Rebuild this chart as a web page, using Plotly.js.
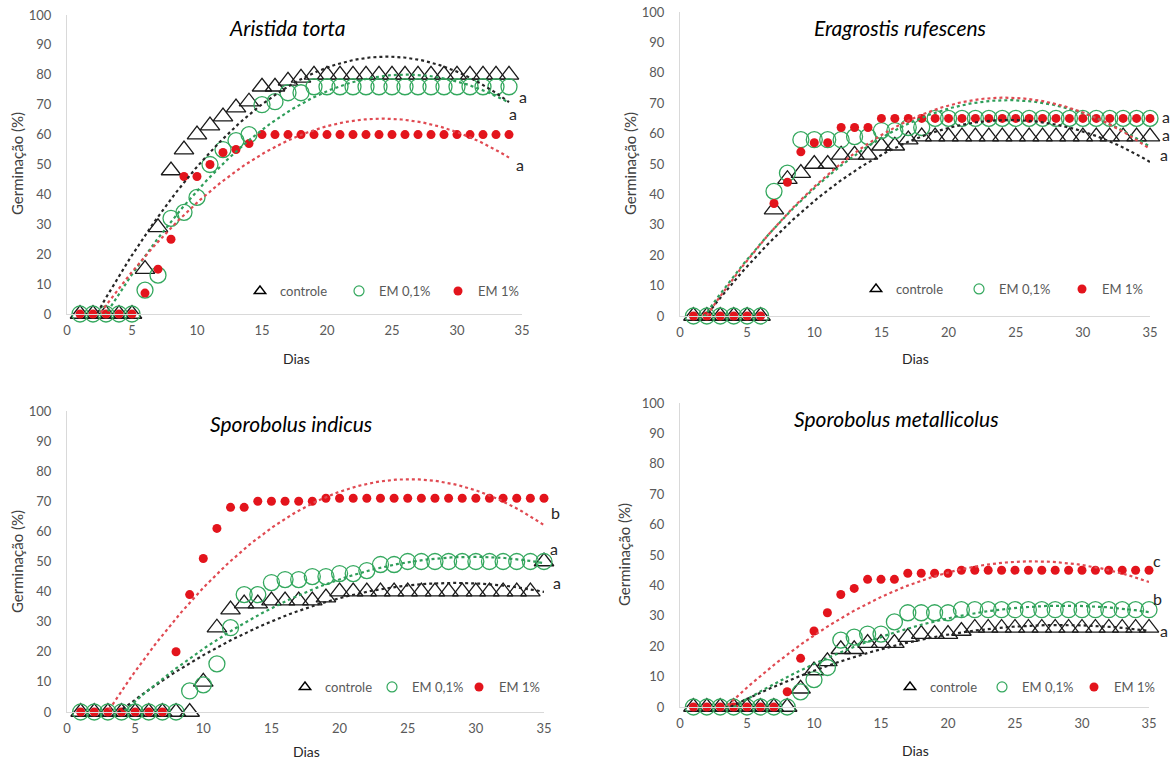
<!DOCTYPE html>
<html><head><meta charset="utf-8">
<script src="https://cdn.plot.ly/plotly-3.0.1.min.js"></script>
<style>html,body{margin:0;padding:0;background:#fff}#chart{width:1173px;height:762px}</style>
</head><body><div id="chart"></div>
<script>
// ---------- data ----------
const panelTitles = ['Aristida torta', 'Eragrostis rufescens', 'Sporobolus indicus', 'Sporobolus metallicolus'];
const seriesNames = ['controle', 'EM 0,1%', 'EM 1%'];
const xAxisTitle = 'Dias';
const yAxisTitle = 'Germinação (%)';
const xTicks = [0, 5, 10, 15, 20, 25, 30, 35];
const yTicks = [0, 10, 20, 30, 40, 50, 60, 70, 80, 90, 100];

const days34 = [1,2,3,4,5,6,7,8,9,10,11,12,13,14,15,16,17,18,19,20,21,22,23,24,25,26,27,28,29,30,31,32,33,34];
const days35 = [1,2,3,4,5,6,7,8,9,10,11,12,13,14,15,16,17,18,19,20,21,22,23,24,25,26,27,28,29,30,31,32,33,34,35];

// Aristida torta
const aristidaControle = [0,0,0,0,0,15,29,48,55,60,63,66,69,71,76,76,78,79,80,80,80,80,80,80,80,80,80,80,80,80,80,80,80,80];
const aristidaEM01     = [0,0,0,0,0,8,13,32,34,39,50,55,58,60,70,71,74,74,76,76,76,76,76,76,76,76,76,76,76,76,76,76,76,76];
const aristidaEM1      = [0,0,0,0,0,7,15,25,46,46,50,54,55,57,60,60,60,60,60,60,60,60,60,60,60,60,60,60,60,60,60,60,60,60];
// Eragrostis rufescens
const eragrostisControle = [0,0,0,0,0,0,35,45,47,50,50,53,53,53,56,56,58,59,59,59,59,59,59,59,59,59,59,59,59,59,59,59,59,59,59];
const eragrostisEM01     = [0,0,0,0,0,0,41,47,58,58,58,58,59,59,61,61,62,62,65,65,65,65,65,65,65,65,65,65,65,65,65,65,65,65,65];
const eragrostisEM1      = [0,0,0,0,0,0,37,44,54,57,57,62,62,62,65,65,65,65,65,65,65,65,65,65,65,65,65,65,65,65,65,65,65,65,65];
// Sporobolus indicus
const indicusControle = [0,0,0,0,0,0,0,0,0,10,28,34,36,36,37,37,37,37,38,40,40,40,40,40,40,40,40,40,40,40,40,40,40,40,50];
const indicusEM01     = [0,0,0,0,0,0,0,0,7,9,16,28,39,39,43,44,44,45,45,46,46,47,49,49,50,50,50,50,50,50,50,50,50,50,50];
const indicusEM1      = [0,0,0,0,0,0,0,20,39,51,61,68,68,70,70,70,70,70,71,71,71,71,71,71,71,71,71,71,71,71,71,71,71,71,71];
// Sporobolus metallicolus
const metallicolusControle = [0,0,0,0,0,0,0,0,6,12,15,19,19,21,21,21,23,24,24,24,25,26,26,26,26,26,26,26,26,26,26,26,26,26,26];
const metallicolusEM01     = [0,0,0,0,0,0,0,0,5,9,13,22,23,24,24,28,31,31,31,31,32,32,32,32,32,32,32,32,32,32,32,32,32,32,32];
const metallicolusEM1      = [0,0,0,0,0,0,0,5,16,25,31,37,39,42,42,42,44,44,44,44,45,45,45,45,45,45,45,45,45,45,45,45,45,45,45];

// significance letters (controle, EM 0,1%, EM 1%) printed at the end of each trend line
const lettersAristida     = ['a', 'a', 'a'];
const lettersEragrostis   = ['a', 'a', 'a'];
const lettersIndicus      = ['a', 'a', 'b'];
const lettersMetallicolus = ['a', 'b', 'c'];

// ---------- styles / layout ----------
const COL_BLACK = '#1a1a1a', COL_GREEN = '#34a85e', COL_RED = '#e3141c';
const TREND_COLS = ['#262626', '#2f9e5a', '#e04a52'];
const FONT = 'Lato, "Open Sans", "Liberation Sans", sans-serif';

// pixel placement of each panel (plot area, titles, legend, letters)
const panels = [
  {days: days34, series: [aristidaControle, aristidaEM01, aristidaEM1], letters: lettersAristida,
   xdom: [67, 522], ydom: [314, 15], title: [287, 28], dias: [296, 358], ytitle: [17, 164],
   letterPx: [[523, 96], [513, 114], [520, 164]],
   legend: {x: 240, y: 291, w: 54}},
  {days: days35, series: [eragrostisControle, eragrostisEM01, eragrostisEM1], letters: lettersEragrostis,
   xdom: [680, 1150], ydom: [316, 12], title: [900, 28], dias: [915, 358], ytitle: [630, 164],
   letterPx: [[1166, 134], [1164, 154], [1166, 117]],
   legend: {x: 856, y: 289, w: 58}},
  {days: days35, series: [indicusControle, indicusEM01, indicusEM1], letters: lettersIndicus,
   xdom: [67, 544], ydom: [712, 411], title: [291, 423], dias: [306, 751], ytitle: [17, 562],
   letterPx: [[557, 582], [554, 548], [555, 512]],
   legend: {x: 285, y: 687, w: 42}},
  {days: days35, series: [metallicolusControle, metallicolusEM01, metallicolusEM1], letters: lettersMetallicolus,
   xdom: [680, 1149], ydom: [707, 403], title: [896, 418], dias: [915, 750], ytitle: [624, 555],
   letterPx: [[1164, 630], [1157, 598], [1157, 560]],
   legend: {x: 890, y: 687, w: 47}}
];

const W = 1173, H = 762;
const px = v => v / W, py = v => (H - v) / H;

// least-squares polynomial (order 2) trend line, like the spreadsheet trendline
function quadFit(xs, ys) {
  let s0=0,s1=0,s2=0,s3=0,s4=0,t0=0,t1=0,t2=0;
  for (let i=0;i<xs.length;i++){const x=xs[i],y=ys[i];s0++;s1+=x;s2+=x*x;s3+=x*x*x;s4+=x*x*x*x;t0+=y;t1+=x*y;t2+=x*x*y;}
  const M=[[s0,s1,s2],[s1,s2,s3],[s2,s3,s4]], T=[t0,t1,t2];
  const det=m=>m[0][0]*(m[1][1]*m[2][2]-m[1][2]*m[2][1])-m[0][1]*(m[1][0]*m[2][2]-m[1][2]*m[2][0])+m[0][2]*(m[1][0]*m[2][1]-m[1][1]*m[2][0]);
  const D=det(M);
  const c=[0,1,2].map(k=>det(M.map((row,r)=>row.map((v,j)=>j===k?T[r]:v)))/D);
  return x=>c[0]+c[1]*x+c[2]*x*x;
}

const traces = [], annotations = [];
const layout = {width: W, height: H, margin: {l:0,r:0,t:0,b:0}, paper_bgcolor:'#fff', plot_bgcolor:'#fff',
  showlegend: true, font: {family: FONT, color: '#595959'}, annotations};

const markerStyles = [
  {symbol: 'triangle-up-open', size: 17, color: COL_BLACK, line: {width: 1.3, color: COL_BLACK}},
  {symbol: 'circle-open', size: 16, color: COL_GREEN, line: {width: 1.3, color: COL_GREEN}},
  {symbol: 'circle', size: 9, color: COL_RED, line: {width: 0}}
];
const legendMarkers = [
  {symbol: 'triangle-up-open', size: 10, color: '#000', line: {width: 1.4, color: '#000'}},
  {symbol: 'circle-open', size: 10, color: COL_GREEN, line: {width: 1.2, color: COL_GREEN}},
  {symbol: 'circle', size: 9, color: COL_RED, line: {width: 0}}
];

panels.forEach((p, i) => {
  const n = i === 0 ? '' : String(i + 1);
  const xa = 'x' + n, ya = 'y' + n, lg = 'legend' + n;
  layout['xaxis' + n] = {domain: [px(p.xdom[0]), px(p.xdom[1])], anchor: ya, range: [0, 35], tickvals: xTicks,
    showline: true, linecolor: '#d9d9d9', linewidth: 1, showgrid: false, zeroline: false, ticks: '',
    tickfont: {size: 13, color: '#595959', family: FONT}, ticklabelstandoff: 4, fixedrange: true};
  layout['yaxis' + n] = {domain: [py(p.ydom[0]), py(p.ydom[1])], anchor: xa, range: [0, 100], tickvals: yTicks,
    showline: true, linecolor: '#d9d9d9', linewidth: 1, showgrid: false, zeroline: false, ticks: '',
    tickfont: {size: 13, color: '#595959', family: FONT}, ticklabelstandoff: 12, fixedrange: true};
  layout[lg] = {orientation: 'h', x: px(p.legend.x), y: py(p.legend.y), xanchor: 'left', yanchor: 'middle',
    bgcolor: 'rgba(0,0,0,0)', font: {size: 13, color: '#595959', family: FONT},
    entrywidth: p.legend.w, entrywidthmode: 'pixels', itemwidth: 30, tracegroupgap: 0};

  // markers
  p.series.forEach((ys, k) => {
    traces.push({type: 'scatter', mode: 'markers', x: p.days, y: ys, xaxis: xa, yaxis: ya,
      marker: markerStyles[k], showlegend: false, cliponaxis: false, name: seriesNames[k], hoverinfo: 'x+y+name'});
  });
  // trend lines fitted to each series (clipped at the axis minimum)
  p.series.forEach((ys, k) => {
    const f = quadFit(p.days, ys);
    const tx = [], ty = [];
    const x0 = p.days[0], x1 = p.days[p.days.length - 1];
    for (let j = 0; j <= 200; j++) { const x = x0 + (x1 - x0) * j / 200; tx.push(x); ty.push(f(x)); }
    traces.push({type: 'scatter', mode: 'lines', x: tx, y: ty, xaxis: xa, yaxis: ya, cliponaxis: true,
      line: {color: TREND_COLS[k], width: 2.2, dash: 'dot'}, showlegend: false, hoverinfo: 'skip'});
  });
  // legend entries
  seriesNames.forEach((nm, k) => {
    traces.push({type: 'scatter', mode: 'markers', x: [null], y: [null], xaxis: xa, yaxis: ya, name: nm,
      marker: legendMarkers[k], legend: lg, showlegend: true});
  });

  annotations.push({xref: 'paper', yref: 'paper', x: px(p.title[0]), y: py(p.title[1]), text: panelTitles[i],
    showarrow: false, xanchor: 'center', yanchor: 'middle',
    font: {size: 21, color: '#000', family: FONT, style: 'italic'}});
  annotations.push({xref: 'paper', yref: 'paper', x: px(p.dias[0]), y: py(p.dias[1]), text: xAxisTitle,
    showarrow: false, xanchor: 'center', yanchor: 'middle', font: {size: 14, color: '#262626', family: FONT}});
  annotations.push({xref: 'paper', yref: 'paper', x: px(p.ytitle[0]), y: py(p.ytitle[1]), text: yAxisTitle,
    showarrow: false, textangle: -90, xanchor: 'center', yanchor: 'middle', font: {size: 15, color: '#404040', family: FONT}});
  p.letters.forEach((t, k) => {
    annotations.push({xref: 'paper', yref: 'paper', x: px(p.letterPx[k][0]), y: py(p.letterPx[k][1]), text: t,
      showarrow: false, xanchor: 'center', yanchor: 'middle', font: {size: 16, color: '#262626', family: FONT}});
  });
});

Plotly.newPlot('chart', traces, layout, {displayModeBar: false, staticPlot: true});
</script></body></html>
